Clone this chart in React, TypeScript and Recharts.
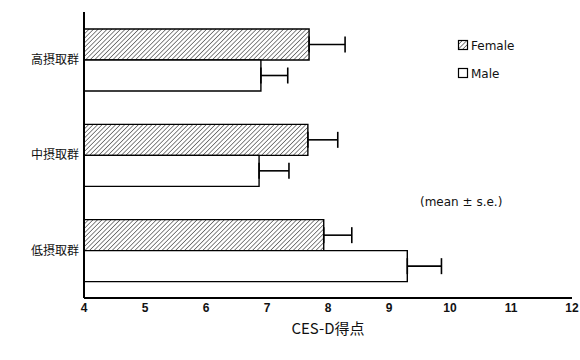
import React from "react";
import { BarChart, Bar, XAxis, YAxis, ErrorBar, Customized } from "recharts";

// CES-D scores by intake group (mean ± s.e.)
const groups = ["高摂取群", "中摂取群", "低摂取群"];
const femaleMean = [7.69, 7.67, 7.93];
const femaleSe = [0.59, 0.49, 0.46];
const maleMean = [6.9, 6.87, 9.3];
const maleSe = [0.44, 0.49, 0.56];
const xTicks = [4, 5, 6, 7, 8, 9, 10, 11, 12];

const data = groups.map((g, i) => ({
  group: g,
  female: femaleMean[i],
  femaleErr: [0, femaleSe[i]],
  male: maleMean[i],
  maleErr: [0, maleSe[i]],
}));

const jpFont = "'Noto Sans CJK JP', 'DejaVu Sans', sans-serif";
const latinFont = "'DejaVu Sans', sans-serif";
const numFont = "'Liberation Sans', Arial, sans-serif";

function HatchDefs() {
  return (
    <defs>
      <pattern id="hatch" width="3.2" height="3.2" patternUnits="userSpaceOnUse" patternTransform="rotate(45)">
        <rect width="3.2" height="3.2" fill="#fff" />
        <line x1="0" y1="0" x2="0" y2="3.2" stroke="#222" strokeWidth="1.1" />
      </pattern>
    </defs>
  );
}

function Notes() {
  return (
    <g fontFamily={latinFont} fontSize={12} fill="#111">
      <rect x={458.5} y={40.5} width={9} height={9} fill="url(#hatch)" stroke="#000" strokeWidth={1.2} />
      <text x={471} y={49.5}>Female</text>
      <rect x={458.5} y={68.5} width={9} height={9} fill="#fff" stroke="#000" strokeWidth={1.2} />
      <text x={471} y={77.5}>Male</text>
      <text x={420} y={205.5}>(mean ± s.e.)</text>
    </g>
  );
}

export default function App() {
  return (
    <div style={{ position: "absolute", left: 0, top: 0, background: "#fff" }}>
      <BarChart
        width={580}
        height={360}
        data={data}
        layout="vertical"
        margin={{ top: 12, right: 8, bottom: 12, left: 0 }}
        barGap={0}
        barSize={31}
      >
        <HatchDefs />
        <XAxis
          type="number"
          domain={[4, 12]}
          ticks={xTicks}
          interval={0}
          tickLine={false}
          tickSize={0}
          tickMargin={5}
          height={50}
          axisLine={{ stroke: "#000", strokeWidth: 2 }}
          tick={{ fill: "#111", fontSize: 12, fontWeight: 600, fontFamily: numFont }}
          label={{
            value: "CES-D得点",
            position: "insideBottom",
            offset: 14,
            style: { fill: "#111", fontSize: 15, fontFamily: jpFont },
          }}
        />
        <YAxis
          type="category"
          dataKey="group"
          width={84}
          tickLine={false}
          tickSize={0}
          tickMargin={5}
          axisLine={{ stroke: "#000", strokeWidth: 2 }}
          tick={{ fill: "#111", fontSize: 12, fontFamily: jpFont }}
        />
        <Bar dataKey="female" fill="url(#hatch)" stroke="#000" strokeWidth={1.4} isAnimationActive={false}>
          <ErrorBar dataKey="femaleErr" direction="x" width={8} stroke="#000" strokeWidth={1.6} />
        </Bar>
        <Bar dataKey="male" fill="#fff" stroke="#000" strokeWidth={1.4} isAnimationActive={false}>
          <ErrorBar dataKey="maleErr" direction="x" width={8} stroke="#000" strokeWidth={1.6} />
        </Bar>
        <Customized component={Notes} />
      </BarChart>
    </div>
  );
}
